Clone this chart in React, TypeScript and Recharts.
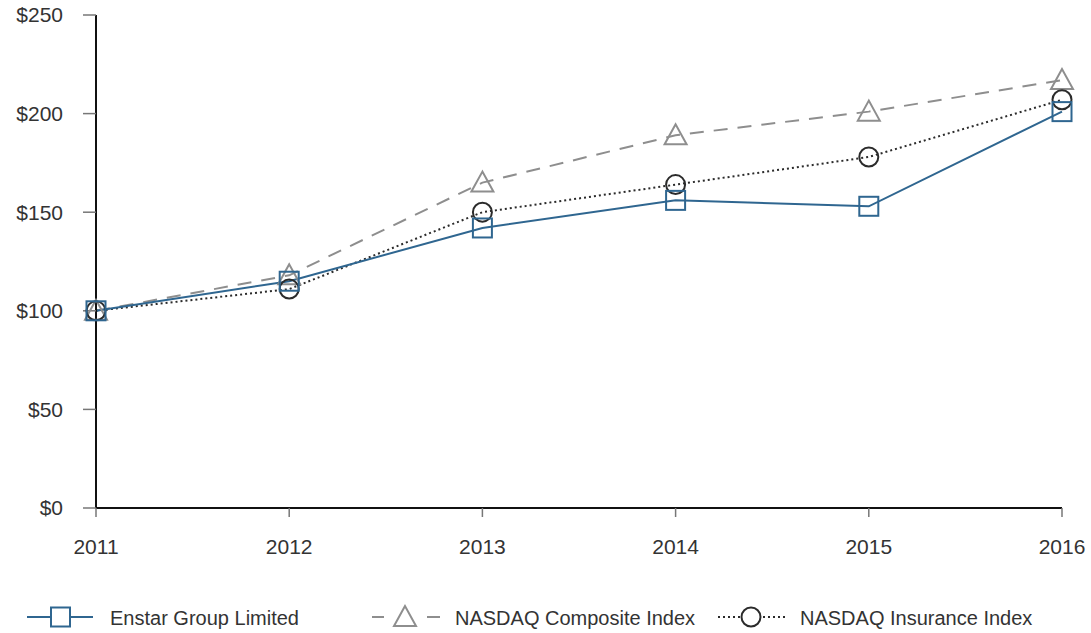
import { CartesianGrid, Line, LineChart, XAxis, YAxis } from 'recharts';

const years = ['2011', '2012', '2013', '2014', '2015', '2016'];
const enstar = [100, 115, 142, 156, 153, 201];
const composite = [100, 118, 165, 189, 201, 217];
const insurance = [100, 111, 150, 164, 178, 207];
const yTicks = [0, 50, 100, 150, 200, 250];

const BLUE = '#2f6690';
const GREY = '#8e8e8e';
const DARK = '#2b2b2b';
const TEXT = '#333';
const FONT = '"Liberation Sans", Arial, sans-serif';

const rows = years.map((y, i) => ({
  year: y,
  enstar: enstar[i],
  composite: composite[i],
  insurance: insurance[i],
}));

type DotProps = { cx?: number; cy?: number; index?: number };

const squareDot = (p: DotProps) => (
  <rect key={`s${p.index}`} x={(p.cx ?? 0) - 9.5} y={(p.cy ?? 0) - 9.5} width={19} height={19} fill="none" stroke={BLUE} strokeWidth={2} />
);

const triPoints = (cx: number, cy: number) => `${cx},${cy - 11} ${cx - 11},${cy + 9} ${cx + 11},${cy + 9}`;

const triDot = (p: DotProps) => (
  <polygon key={`t${p.index}`} points={triPoints(p.cx ?? 0, p.cy ?? 0)} fill="none" stroke={GREY} strokeWidth={2} />
);

const circleDot = (p: DotProps) => (
  <circle key={`c${p.index}`} cx={p.cx} cy={p.cy} r={9.5} fill="none" stroke={DARK} strokeWidth={2} />
);

function LegendRow() {
  const y = 17;
  return (
    <svg width={1091} height={34} style={{ position: 'absolute', left: 0, top: 600 }}>
      <g fontFamily={FONT} fontSize={20} fill={TEXT}>
        <line x1={27} x2={93} y1={y} y2={y} stroke={BLUE} strokeWidth={2} />
        <rect x={51} y={y - 9.5} width={19} height={19} fill="#fff" stroke={BLUE} strokeWidth={2} />
        <text x={110} y={y + 7.5}>Enstar Group Limited</text>

        <line x1={372} x2={440} y1={y} y2={y} stroke={GREY} strokeWidth={2} strokeDasharray="12 44" />
        <line x1={427} x2={440} y1={y} y2={y} stroke={GREY} strokeWidth={2} />
        <polygon points={triPoints(405, y)} fill="#fff" stroke={GREY} strokeWidth={2} />
        <text x={455} y={y + 7.5}>NASDAQ Composite Index</text>

        <line x1={718} x2={785} y1={y} y2={y} stroke={DARK} strokeWidth={2} strokeDasharray="2 3" />
        <circle cx={751} cy={y} r={9.5} fill="#fff" stroke={DARK} strokeWidth={2} />
        <text x={800} y={y + 7.5}>NASDAQ Insurance Index</text>
      </g>
    </svg>
  );
}

export default function App() {
  return (
    <div style={{ position: 'absolute', left: 0, top: 0, width: 1091, height: 633, background: '#fff' }}>
      <LineChart width={1091} height={600} data={rows} margin={{ top: 15, right: 29, left: 0, bottom: 0 }}>
        <CartesianGrid stroke="none" />
        <XAxis
          dataKey="year"
          height={92}
          axisLine={{ stroke: '#111', strokeWidth: 2 }}
          tickLine={{ stroke: '#777', strokeWidth: 1.5 }}
          tickSize={9}
          tickMargin={22}
          tick={{ fill: TEXT, fontSize: 21, fontFamily: FONT }}
        />
        <YAxis
          domain={[0, 250]}
          ticks={yTicks}
          width={96}
          axisLine={{ stroke: '#111', strokeWidth: 2 }}
          tickLine={{ stroke: '#777', strokeWidth: 1.5 }}
          tickSize={13}
          tickMargin={20}
          tickFormatter={(v: number) => `$${v}`}
          tick={{ fill: TEXT, fontSize: 21, fontFamily: FONT }}
        />
        <Line dataKey="composite" stroke={GREY} strokeWidth={2} strokeDasharray="14 10" dot={triDot} isAnimationActive={false} />
        <Line dataKey="insurance" stroke={DARK} strokeWidth={2} strokeDasharray="2 3" dot={circleDot} isAnimationActive={false} />
        <Line dataKey="enstar" stroke={BLUE} strokeWidth={2} dot={squareDot} isAnimationActive={false} />
      </LineChart>
      <LegendRow />
    </div>
  );
}
